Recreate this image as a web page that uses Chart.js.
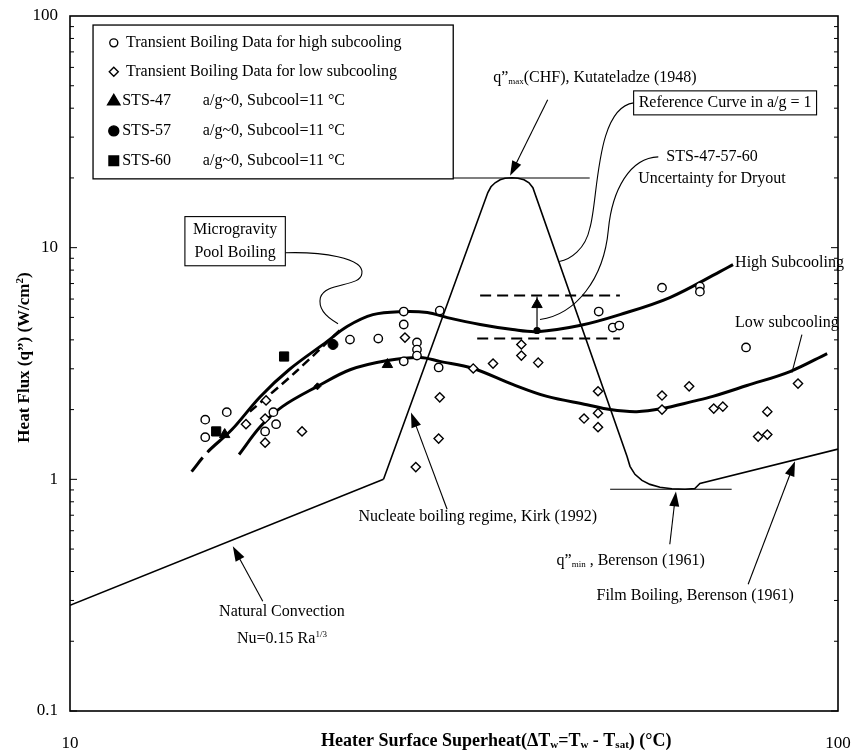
<!DOCTYPE html>
<html>
<head>
<meta charset="utf-8">
<script src="https://cdn.jsdelivr.net/npm/chart.js@4"></script>
<style>
  html, body { margin: 0; padding: 0; background: #fff; }
  canvas { display: block; }
</style>
</head>
<body>
<canvas id="boilingChart" width="861" height="752"></canvas>
<script>
// values (x: wall superheat in °C, y: heat flux in W/cm²)
const natConvX = [10, 25.6];
const natConvY = [0.286, 1.0];

// Kirk nucleate boiling -> CHF peak -> transition -> q"min (reference curve a/g = 1)
const refX = [25.6, 35.0, 35.33, 35.77, 36.31, 36.85, 37.63, 38.31, 39.01, 39.6, 40.06, 53.13, 53.6, 54.4, 55.56, 56.91, 58.64, 60.77, 63.21];
const refY = [1.0, 17.3, 18.32, 19.06, 19.64, 19.94, 20.03, 19.94, 19.64, 19.06, 18.14, 1.256, 1.138, 1.051, 0.99, 0.951, 0.924, 0.91, 0.906];

const chfX = [31.5, 47.5];
const chfY = [20, 20];
const qminX = [50.5, 72.7];
const qminY = [0.906, 0.906];
const filmX = [63.21, 65.1, 66.1, 100];
const filmY = [0.906, 0.913, 0.96, 1.35];

const highX = [14.4, 15.1, 16.25, 17.7, 19.3, 21.6, 22.95, 24.8, 27.1, 29.2, 31.0, 34.2, 37.7, 40.6, 46.1, 52.0, 60.4, 70.2, 73.0];
const highY = [1.08, 1.31, 1.64, 2.28, 2.98, 3.93, 4.57, 5.14, 5.3, 5.25, 4.99, 4.66, 4.43, 4.34, 4.61, 5.14, 6.09, 7.88, 8.45];

const lowX = [16.6, 17.7, 18.9, 21.0, 23.2, 25.9, 28.6, 30.3, 33.5, 37.7, 41.8, 47.1, 50.5, 54.7, 59.0, 64.7, 68.7, 76.1, 86.6, 96.8];
const lowY = [1.28, 1.69, 2.06, 2.52, 2.98, 3.26, 3.36, 3.23, 3.01, 2.57, 2.28, 2.1, 2.0, 1.96, 2.02, 2.17, 2.28, 2.54, 2.92, 3.49];

const microX = [17.15, 19.7, 22.5];
const microY = [1.96, 2.92, 4.43];

const dryUpX = [34.2, 52.0];
const dryUpY = [6.21, 6.21];
const dryLoX = [33.9, 52.0];
const dryLoY = [4.05, 4.05];
const dryArrowX = [40.56, 40.56];
const dryArrowY = [4.39, 6.15];
const dryHeadX = [40.56];
const dryHeadY = [5.68];

const highDataX = [15.0, 15.0, 16.0, 18.4, 18.55, 17.95, 23.15, 25.2, 27.2, 27.2, 30.3, 27.2, 30.2, 28.3, 28.3, 28.3, 48.8, 50.9, 51.9, 59.0, 66.1, 66.1, 75.9];
const highDataY = [1.81, 1.52, 1.95, 1.95, 1.73, 1.61, 4.01, 4.05, 4.66, 5.3, 5.35, 3.23, 3.04, 3.9, 3.63, 3.42, 5.3, 4.52, 4.61, 6.72, 6.79, 6.46, 3.71];

const lowDataX = [16.95, 18.0, 17.95, 17.95, 20.05, 27.3, 30.3, 30.2, 28.2, 33.5, 35.55, 38.7, 38.7, 40.7, 48.7, 46.7, 48.7, 48.7, 59.0, 59.0, 64.0, 68.9, 70.8, 80.9, 78.7, 80.9, 88.7];
const lowDataY = [1.73, 2.19, 1.83, 1.44, 1.61, 4.09, 2.26, 1.5, 1.13, 3.01, 3.16, 3.82, 3.42, 3.19, 2.4, 1.83, 1.93, 1.68, 2.3, 2.0, 2.52, 2.02, 2.06, 1.96, 1.53, 1.56, 2.59];

const sts47X = [15.9, 25.9];
const sts47Y = [1.56, 3.13];
const sts57X = [22.0];
const sts57Y = [3.82];
const sts60X = [15.5, 19.0];
const sts60Y = [1.61, 3.39];
const lowMarkX = [21.0];
const lowMarkY = [2.52];

const xTickLabels = ['10', '100'];
const yTickLabels = ['0.1', '1', '10', '100'];

const legendLabels = [
  'Transient Boiling Data for high subcooling',
  'Transient Boiling Data for low subcooling',
  'STS-47', 'STS-57', 'STS-60'
];
const legendNote = 'a/g~0, Subcool=11 °C';

const SERIF = '"Liberation Serif", "Times New Roman", serif';
const fnt = (size, bold) => (bold ? 'bold ' : '') + size + 'px ' + SERIF;

const xy = (xs, ys) => xs.map((v, i) => ({ x: v, y: ys[i] }));

function curve(xs, ys, extra) {
  return Object.assign({
    data: xy(xs, ys), showLine: true, pointRadius: 0, pointHoverRadius: 0,
    borderColor: '#000', borderWidth: 1.5, fill: false, tension: 0
  }, extra);
}

function marks(xs, ys, style, r, filled) {
  return {
    data: xy(xs, ys), showLine: false, pointStyle: style,
    pointRadius: r, pointHoverRadius: r,
    pointBackgroundColor: filled ? '#000' : '#fff',
    pointBorderColor: '#000', pointBorderWidth: filled ? 1 : 1.4
  };
}

function tickLabel(list) {
  return v => {
    const hit = list.find(t => Math.abs(Number(t) - v) < 1e-9 * Math.max(1, v));
    return hit === undefined ? '' : hit;
  };
}

// text with sub/superscript pieces: [text, size, dy, bold]
function rich(ctx, parts, x, y, align) {
  let w = 0;
  parts.forEach(p => { ctx.font = fnt(p[1], p[3]); w += ctx.measureText(p[0]).width; });
  let cx = align === 'center' ? x - w / 2 : align === 'right' ? x - w : x;
  ctx.textAlign = 'left';
  ctx.textBaseline = 'middle';
  parts.forEach(p => {
    ctx.font = fnt(p[1], p[3]);
    ctx.fillText(p[0], cx, y + (p[2] || 0));
    cx += ctx.measureText(p[0]).width;
  });
  return w;
}

function arrow(ctx, a, b, len, half) {
  const ang = Math.atan2(b[1] - a[1], b[0] - a[0]);
  const c = Math.cos(ang), s = Math.sin(ang);
  ctx.beginPath();
  ctx.moveTo(a[0], a[1]);
  ctx.lineTo(b[0] - c * len * 0.8, b[1] - s * len * 0.8);
  ctx.stroke();
  ctx.beginPath();
  ctx.moveTo(b[0], b[1]);
  ctx.lineTo(b[0] - c * len - s * half, b[1] - s * len + c * half);
  ctx.lineTo(b[0] - c * len + s * half, b[1] - s * len - c * half);
  ctx.closePath();
  ctx.fill();
}

function marker(ctx, style, filled, r, x, y) {
  ctx.beginPath();
  if (style === 'circle') ctx.arc(x, y, r, 0, Math.PI * 2);
  else if (style === 'diamond') { ctx.moveTo(x, y - r); ctx.lineTo(x + r, y); ctx.lineTo(x, y + r); ctx.lineTo(x - r, y); ctx.closePath(); }
  else if (style === 'triangle') { ctx.moveTo(x, y - r); ctx.lineTo(x + r * 0.95, y + r * 0.6); ctx.lineTo(x - r * 0.95, y + r * 0.6); ctx.closePath(); }
  else ctx.rect(x - r, y - r, r * 2, r * 2);
  ctx.fillStyle = filled ? '#000' : '#fff';
  ctx.fill();
  ctx.lineWidth = 1.4;
  ctx.stroke();
  ctx.fillStyle = '#000';
}

const notesPlugin = {
  id: 'notes',
  afterDraw(chart) {
    const { ctx, chartArea: ca } = chart;
    const xs = chart.scales.x, ys = chart.scales.y;
    // annotation anchors are given as log10 of the data values
    const P = (lx, ly) => [xs.getPixelForValue(Math.pow(10, lx)), ys.getPixelForValue(Math.pow(10, ly))];
    ctx.save();
    ctx.strokeStyle = '#000';
    ctx.fillStyle = '#000';

    // frame
    ctx.lineWidth = 1.6;
    ctx.strokeRect(ca.left, ca.top, ca.width, ca.height);

    // minor log ticks on both vertical axes
    ctx.lineWidth = 1;
    for (let e = -1; e < 2; e++) {
      for (let k = 1; k < 10; k++) {
        const py = ys.getPixelForValue(k * Math.pow(10, e));
        const len = k === 1 ? 7 : 4;
        ctx.beginPath();
        ctx.moveTo(ca.left, py); ctx.lineTo(ca.left + len, py);
        ctx.moveTo(ca.right, py); ctx.lineTo(ca.right - len, py);
        ctx.stroke();
      }
    }

    // legend box
    const b0 = P(1.030, 1.961), b1 = P(1.499, 1.297);
    ctx.fillStyle = '#fff';
    ctx.fillRect(b0[0], b0[1], b1[0] - b0[0], b1[1] - b0[1]);
    ctx.fillStyle = '#000';
    ctx.lineWidth = 1.3;
    ctx.strokeRect(b0[0], b0[1], b1[0] - b0[0], b1[1] - b0[1]);
    const rowY = [1.884, 1.759, 1.634, 1.504, 1.375];
    const styles = [['circle', false, 4], ['diamond', false, 4.5], ['triangle', true, 6.5], ['circle', true, 5], ['square', true, 4.8]];
    rowY.forEach((ly, i) => {
      const m = P(1.057, ly);
      marker(ctx, styles[i][0], styles[i][1], styles[i][2], m[0], m[1]);
      const t = P(i < 2 ? 1.073 : 1.068, ly);
      ctx.font = fnt(16);
      ctx.textAlign = 'left';
      ctx.textBaseline = 'middle';
      ctx.fillText(legendLabels[i], t[0], t[1]);
      if (i >= 2) {
        const t2 = P(1.173, ly);
        ctx.fillText(legendNote, t2[0], t2[1]);
      }
    });

    ctx.lineWidth = 1.1;
    // q"max (CHF)
    let p = P(1.551, 1.733);
    rich(ctx, [['q\u201D', 16], ['max', 9, 4], ['(CHF), Kutateladze (1948)', 16]], p[0], p[1], 'left');
    arrow(ctx, P(1.622, 1.638), P(1.573, 1.310), 15, 5);

    // Reference curve box + leader
    p = P(1.853, 1.625);
    ctx.font = fnt(16);
    const rw = ctx.measureText('Reference Curve in a/g = 1').width;
    ctx.strokeRect(p[0] - rw / 2 - 5, p[1] - 12, rw + 10, 24);
    rich(ctx, [['Reference Curve in a/g = 1', 16]], p[0], p[1], 'center');
    let q0 = P(1.853, 1.625);
    q0[0] = p[0] - rw / 2 - 5;
    let c1 = P(1.684, 1.603), c2 = P(1.688, 1.207), q1 = P(1.677, 1.086);
    let c3 = P(1.671, 0.991), c4 = P(1.651, 0.948), q2 = P(1.637, 0.940);
    ctx.beginPath();
    ctx.moveTo(q0[0], q0[1]);
    ctx.bezierCurveTo(c1[0], c1[1], c2[0], c2[1], q1[0], q1[1]);
    ctx.bezierCurveTo(c3[0], c3[1], c4[0], c4[1], q2[0], q2[1]);
    ctx.stroke();

    // STS dryout note + leader
    p = P(1.836, 1.392);
    rich(ctx, [['STS-47-57-60', 16]], p[0], p[1], 'center');
    p = P(1.836, 1.297);
    rich(ctx, [['Uncertainty for Dryout', 16]], p[0], p[1], 'center');
    q0 = P(1.766, 1.392); c1 = P(1.729, 1.388); c2 = P(1.706, 1.25); q1 = P(1.701, 1.078);
    c3 = P(1.695, 0.862); c4 = P(1.658, 0.711); q2 = P(1.612, 0.690);
    ctx.beginPath();
    ctx.moveTo(q0[0], q0[1]);
    ctx.bezierCurveTo(c1[0], c1[1], c2[0], c2[1], q1[0], q1[1]);
    ctx.bezierCurveTo(c3[0], c3[1], c4[0], c4[1], q2[0], q2[1]);
    ctx.stroke();

    // Microgravity pool boiling box + leader
    const m1 = P(1.215, 1.078), m2 = P(1.215, 0.978);
    ctx.font = fnt(16);
    const mw = ctx.measureText('Microgravity').width;
    ctx.strokeRect(m1[0] - mw / 2 - 8, m1[1] - 13, mw + 16, m2[1] - m1[1] + 26);
    rich(ctx, [['Microgravity', 16]], m1[0], m1[1], 'center');
    rich(ctx, [['Pool Boiling', 16]], m2[0], m2[1], 'center');
    q0 = [m1[0] + mw / 2 + 8, m2[1]];
    c1 = P(1.326, 0.983); c2 = P(1.384, 0.957); q1 = P(1.380, 0.888);
    c3 = P(1.378, 0.828); c4 = P(1.332, 0.853); q2 = P(1.326, 0.784);
    const c5 = P(1.322, 0.724), c6 = P(1.339, 0.690), q3 = P(1.349, 0.672);
    ctx.beginPath();
    ctx.moveTo(q0[0], q0[1]);
    ctx.bezierCurveTo(c1[0], c1[1], c2[0], c2[1], q1[0], q1[1]);
    ctx.bezierCurveTo(c3[0], c3[1], c4[0], c4[1], q2[0], q2[1]);
    ctx.bezierCurveTo(c5[0], c5[1], c6[0], c6[1], q3[0], q3[1]);
    ctx.stroke();

    // curve labels
    p = P(1.866, 0.935);
    rich(ctx, [['High Subcooling', 16]], p[0], p[1], 'left');
    p = P(1.866, 0.677);
    rich(ctx, [['Low subcooling', 16]], p[0], p[1], 'left');
    q0 = P(1.953, 0.625); q1 = P(1.940, 0.461);
    ctx.beginPath(); ctx.moveTo(q0[0], q0[1]); ctx.lineTo(q1[0], q1[1]); ctx.stroke();

    // nucleate boiling
    p = P(1.531, -0.160);
    rich(ctx, [['Nucleate boiling regime, Kirk (1992)', 16]], p[0], p[1], 'center');
    arrow(ctx, P(1.491, -0.129), P(1.444, 0.289), 15, 5);

    // q"min
    p = P(1.730, -0.353);
    rich(ctx, [['q\u201D', 16], ['min', 9, 4], [' , Berenson (1961)', 16]], p[0], p[1], 'center');
    arrow(ctx, P(1.781, -0.280), P(1.789, -0.052), 15, 5);

    // film boiling
    p = P(1.814, -0.504);
    rich(ctx, [['Film Boiling, Berenson (1961)', 16]], p[0], p[1], 'center');
    arrow(ctx, P(1.883, -0.453), P(1.944, 0.078), 15, 5);

    // natural convection
    p = P(1.276, -0.573);
    rich(ctx, [['Natural Convection', 16]], p[0], p[1], 'center');
    p = P(1.276, -0.690);
    rich(ctx, [['Nu=0.15 Ra', 16], ['1/3', 9, -5]], p[0], p[1], 'center');
    arrow(ctx, P(1.251, -0.526), P(1.212, -0.289), 15, 5);

    // axis titles
    p = P(1.555, -1);
    rich(ctx, [['Heater Surface Superheat(\u0394T', 18, 0, true], ['w', 11, 4, true], ['=T', 18, 0, true], ['w', 11, 4, true],
               [' - T', 18, 0, true], ['sat', 11, 4, true], [') (\u00B0C)', 18, 0, true]], p[0], ca.bottom + 30, 'center');
    ctx.save();
    ctx.translate(ca.left - 45, (ca.top + ca.bottom) / 2 - 6);
    ctx.rotate(-Math.PI / 2);
    rich(ctx, [['Heat Flux (q\u201D) (W/cm', 17, 0, true], ['2', 11, -5, true], [')', 17, 0, true]], 0, 0, 'center');
    ctx.restore();

    ctx.restore();
  }
};

const datasets = [
  marks(sts47X, sts47Y, 'triangle', 6, true),
  marks(sts57X, sts57Y, 'circle', 5, true),
  marks(sts60X, sts60Y, 'rect', 6.5, true),
  marks(lowMarkX, lowMarkY, 'rectRot', 3.5, true),
  marks(highDataX, highDataY, 'circle', 4.2, false),
  marks(lowDataX, lowDataY, 'rectRot', 4.6, false),
  marks(dryHeadX, dryHeadY, 'triangle', 6, true),
  curve(dryArrowX, dryArrowY, { borderWidth: 1.2, pointRadius: [3, 0], pointBackgroundColor: '#000', pointBorderColor: '#000' }),
  curve(dryUpX, dryUpY, { borderWidth: 2, borderDash: [11, 6] }),
  curve(dryLoX, dryLoY, { borderWidth: 2, borderDash: [11, 6] }),
  curve(highX, highY, {
    borderWidth: 3, tension: 0.35,
    segment: { borderDash: c => c.p0DataIndex === 0 ? [18, 8] : undefined }
  }),
  curve(lowX, lowY, { borderWidth: 3, tension: 0.35 }),
  curve(microX, microY, { borderWidth: 2.5, borderDash: [9, 5], tension: 0.3 }),
  curve(natConvX, natConvY, { borderWidth: 1.6 }),
  curve(refX, refY, { borderWidth: 1.6 }),
  curve(chfX, chfY, { borderWidth: 1.1 }),
  curve(qminX, qminY, { borderWidth: 1.1 }),
  curve(filmX, filmY, { borderWidth: 1.6 })
];

new Chart(document.getElementById('boilingChart'), {
  type: 'scatter',
  data: { datasets },
  options: {
    responsive: false,
    animation: false,
    layout: { padding: { left: 0, top: 16, right: 23, bottom: 0 } },
    plugins: {
      legend: { display: false },
      tooltip: { enabled: false }
    },
    scales: {
      x: {
        type: 'logarithmic', min: 10, max: 100,
        grid: { display: false, drawTicks: false },
        border: { display: false },
        ticks: {
          autoSkip: false, maxRotation: 0, minRotation: 0, padding: 22,
          color: '#000', font: { family: SERIF, size: 17 },
          callback: tickLabel(xTickLabels)
        },
        afterFit: s => { s.height = 41; s.paddingLeft = 0; s.paddingRight = 0; }
      },
      y: {
        type: 'logarithmic', min: 0.1, max: 100,
        grid: { display: false, drawTicks: false },
        border: { display: false },
        ticks: {
          autoSkip: false, padding: 12,
          color: '#000', font: { family: SERIF, size: 17 },
          callback: tickLabel(yTickLabels)
        },
        afterFit: s => { s.width = 70; s.paddingTop = 0; s.paddingBottom = 0; }
      }
    }
  },
  plugins: [notesPlugin]
});
</script>
</body>
</html>
